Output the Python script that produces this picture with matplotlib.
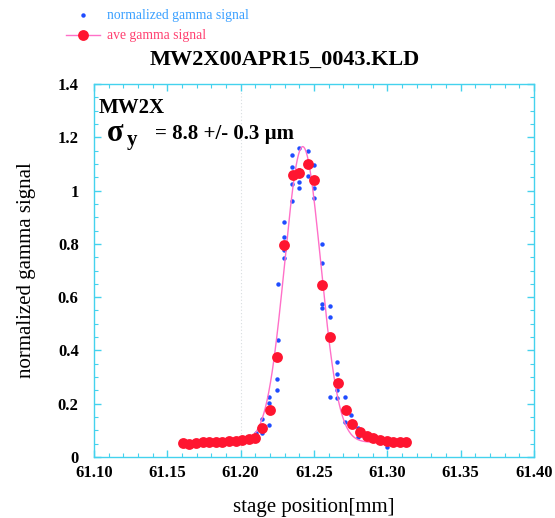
import numpy as np
import matplotlib
matplotlib.use("Agg")
import matplotlib.pyplot as plt
from matplotlib.ticker import MultipleLocator, FormatStrFormatter, FuncFormatter
from matplotlib.lines import Line2D

SERIF = ["Liberation Serif", "DejaVu Serif"]
AXIS_COLOR = "#44d2ee"

# averaged gamma signal per stage step
ave_x = [61.1605, 61.1650, 61.1695, 61.1740, 61.1785, 61.1830, 61.1875, 61.1920,
         61.1965, 61.2010, 61.2055, 61.2100, 61.2146, 61.2200, 61.2246, 61.2296,
         61.2360, 61.2398, 61.2462, 61.2503, 61.2557, 61.2610, 61.2661, 61.2716,
         61.2758, 61.2814, 61.2860, 61.2905, 61.2950, 61.2995, 61.3040, 61.3085,
         61.3125]
ave_y = [0.052, 0.050, 0.053, 0.055, 0.056, 0.057, 0.058, 0.059,
         0.060, 0.062, 0.066, 0.072, 0.108, 0.177, 0.375, 0.794,
         1.060, 1.067, 1.098, 1.039, 0.644, 0.450, 0.277, 0.176,
         0.123, 0.095, 0.080, 0.070, 0.065, 0.060, 0.058, 0.056,
         0.056]

# individual normalized gamma signal samples
raw_x = [61.1605, 61.1650, 61.1740, 61.1830, 61.1920, 61.2010, 61.2055,
         61.2105, 61.2148, 61.2148,
         61.2195, 61.2195, 61.2195,
         61.2246, 61.2246, 61.2252, 61.2252,
         61.2296, 61.2296, 61.2296, 61.2296,
         61.2351, 61.2351, 61.2351, 61.2351,
         61.2400, 61.2400, 61.2400, 61.2400,
         61.2456, 61.2456, 61.2497, 61.2503, 61.2503,
         61.2556, 61.2556, 61.2556, 61.2556,
         61.2610, 61.2610, 61.2610,
         61.2659, 61.2659, 61.2659, 61.2659,
         61.2713, 61.2713, 61.2753,
         61.2803, 61.2803, 61.2905, 61.2997, 61.3085]
raw_y = [0.050, 0.052, 0.054, 0.056, 0.058, 0.060, 0.064,
         0.089, 0.143, 0.089,
         0.224, 0.204, 0.120,
         0.293, 0.252, 0.650, 0.440,
         0.881, 0.826, 0.778, 0.747,
         1.135, 1.088, 1.026, 0.959,
         1.161, 1.079, 1.034, 1.010,
         1.148, 1.054, 1.095, 1.010, 0.972,
         0.801, 0.728, 0.575, 0.559,
         0.568, 0.527, 0.227,
         0.358, 0.312, 0.252, 0.221,
         0.224, 0.133, 0.158,
         0.108, 0.074, 0.066, 0.039, 0.052]

# gaussian + background fit to the averaged signal
fit_amp = 1.11
fit_center = 61.2423
fit_width = 0.0123
fit_offset = 0.055

x_ticks = [61.10, 61.15, 61.20, 61.25, 61.30, 61.35, 61.40]
y_ticks = [0, 0.2, 0.4, 0.6, 0.8, 1.0, 1.2, 1.4]

fig = plt.figure(figsize=(5.55, 5.18), dpi=100)
ax = fig.add_axes([94 / 555, 1 - 457 / 518, 440 / 555, 373 / 518])

ax.axvline(61.20, color="#d8dde0", lw=0.8, ls=(0, (1, 2)), zorder=0)

ax.plot(raw_x, raw_y, "o", color="#1f4cff", ms=3.2, mec="none", zorder=2)

fx = np.linspace(min(ave_x), max(ave_x), 400)
fy = fit_amp * np.exp(-(fx - fit_center) ** 2 / (2 * fit_width ** 2)) + fit_offset
ax.plot(fx, fy, color="#ff70c8", lw=1.0, zorder=3)
ax.plot(ave_x, ave_y, "o", color="#ff1530", ms=7.8, mec="none", zorder=4)

ax.set_xlim(61.10, 61.40)
ax.set_ylim(0, 1.4)
ax.set_xticks(x_ticks)
ax.set_yticks(y_ticks)
ax.xaxis.set_minor_locator(MultipleLocator(0.01))
ax.yaxis.set_minor_locator(MultipleLocator(0.05))
ax.xaxis.set_major_formatter(FormatStrFormatter("%.2f"))
ax.yaxis.set_major_formatter(FuncFormatter(lambda v, p: f"{v:g}"))

for sp in ax.spines.values():
    sp.set_color(AXIS_COLOR)
    sp.set_linewidth(1.0)
ax.tick_params(which="both", direction="in", top=True, right=True, color=AXIS_COLOR)
ax.tick_params(which="major", length=5, width=1.0)
ax.tick_params(which="minor", length=3, width=0.8)
ax.tick_params(axis="x", which="major", pad=6)
ax.tick_params(axis="y", which="major", pad=11)
for lab in ax.get_xticklabels() + ax.get_yticklabels():
    lab.set_family(SERIF)
    lab.set_fontweight("bold")
    lab.set_fontsize(12)

ax.set_xlabel("stage position[mm]", family=SERIF, fontsize=15, labelpad=12)
ax.set_ylabel("normalized gamma signal", family=SERIF, fontsize=15, labelpad=16)

fig.text(285 / 555, 1 - 60 / 518, "MW2X00APR15_0043.KLD", family=SERIF,
         fontweight="bold", fontsize=16, ha="center", va="center")

fig.text(99 / 555, 1 - 113 / 518, "MW2X", family=SERIF,
         fontweight="bold", fontsize=15, va="baseline")
fig.text(107 / 555, 1 - 141 / 518, "\u03c3", family=SERIF, fontweight="bold",
         fontsize=22, va="baseline")
fig.text(127 / 555, 1 - 145 / 518, "y", family=SERIF, fontweight="bold",
         fontsize=15, va="baseline")
fig.text(155 / 555, 1 - 139 / 518, "= 8.8 +/- 0.3 \u00b5m", family=SERIF,
         fontweight="bold", fontsize=15, va="baseline")

# legend entries drawn in figure coordinates
fig.add_artist(Line2D([83 / 555], [1 - 15 / 518], marker="o", ms=3.2,
                      color="#1f4cff", mec="none", ls="none"))
fig.text(107 / 555, 1 - 15 / 518, "normalized gamma signal", family=SERIF,
         fontsize=9.8, color="#3aa0ff", va="center")
fig.add_artist(Line2D([66 / 555, 100 / 555], [1 - 35 / 518, 1 - 35 / 518],
                      color="#ff70c8", lw=1.0))
fig.add_artist(Line2D([83 / 555], [1 - 35 / 518], marker="o", ms=7.8,
                      color="#ff1530", mec="none", ls="none"))
fig.text(107 / 555, 1 - 35 / 518, "ave gamma signal", family=SERIF,
         fontsize=9.8, color="#ff4070", va="center")

fig.savefig("out.png", dpi=100)
